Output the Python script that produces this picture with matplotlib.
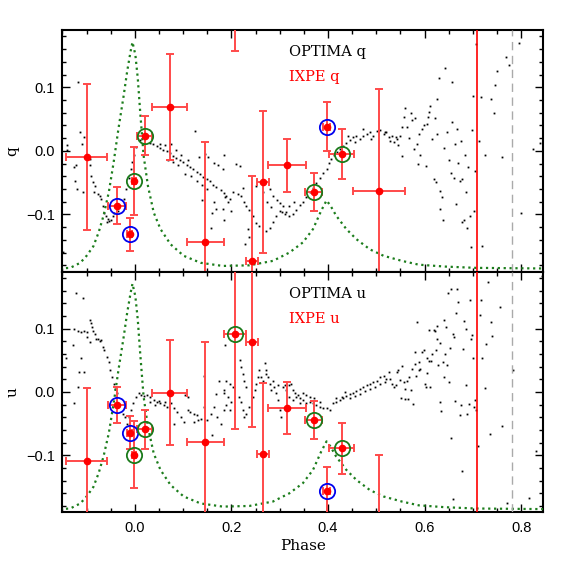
import numpy as np
import matplotlib
matplotlib.use('Agg')
import matplotlib.pyplot as plt
from matplotlib.ticker import MultipleLocator

# IXPE points (shared phase bins)
ixpe_phase = [-0.100, -0.037, -0.011, -0.001, 0.020, 0.072, 0.146, 0.2075, 0.243,
              0.265, 0.315, 0.370, 0.397, 0.428, 0.5055]
ixpe_phase_err = [0.042, 0.018, 0.005, 0.004, 0.015, 0.036, 0.038, 0.023, 0.013,
                  0.0125, 0.039, 0.0166, 0.008, 0.0256, 0.053]
ixpe_q = [-0.010, -0.086, -0.131, -0.047, 0.024, 0.069, -0.144, 0.306, -0.173,
          -0.049, -0.023, -0.065, 0.038, -0.005, -0.063]
ixpe_q_err = [0.115, 0.029, 0.026, 0.0535, 0.031, 0.0835, 0.158, 0.149, 0.134,
              0.111, 0.0415, 0.030, 0.039, 0.040, 0.161]
ixpe_u = [-0.109, -0.021, -0.064, -0.099, -0.059, -0.001, -0.079, 0.091, 0.079,
          -0.098, -0.025, -0.044, -0.157, -0.089, -0.260]
ixpe_u_err = [0.115, 0.0285, 0.026, 0.053, 0.031, 0.083, 0.158, 0.149, 0.135,
              0.112, 0.0415, 0.030, 0.039, 0.040, 0.161]

# which bins get a ring
blue_q = [1, 2, 12]
green_q = [3, 4, 11, 13]
blue_u = [1, 2, 12]
green_u = [3, 4, 7, 11, 13]

# scaled pulse profile (dotted green)
profile_phase = [-0.155, -0.134, -0.113, -0.100, -0.086, -0.075, -0.065, -0.054, -0.044,
                 -0.034, -0.023, -0.016, -0.009, -0.005, 0.001, 0.006, 0.011, 0.018,
                 0.027, 0.039, 0.053, 0.074, 0.101, 0.136, 0.182, 0.237, 0.286, 0.320,
                 0.348, 0.369, 0.386, 0.397, 0.405, 0.417, 0.438, 0.459, 0.487, 0.515,
                 0.553, 0.588, 0.643, 0.706, 0.850]
profile_val = [-0.185, -0.184, -0.176, -0.165, -0.150, -0.128, -0.102, -0.065, -0.018,
               0.035, 0.088, 0.125, 0.156, 0.171, 0.151, 0.114, 0.061, -0.007,
               -0.055, -0.097, -0.123, -0.147, -0.165, -0.176, -0.181, -0.180, -0.173, -0.160,
               -0.144, -0.123, -0.094, -0.078, -0.086, -0.102, -0.123, -0.139, -0.155, -0.165,
               -0.173, -0.179, -0.182, -0.184, -0.185]

# OPTIMA q (phase, q)
optima_q = [
    (-0.117, 0.109), (-0.140, 0.009), (-0.141, 0.001), (-0.127, -0.025), (-0.122, -0.023),
    (-0.113, 0.030), (-0.106, 0.022), (-0.110, 0.011), (-0.124, -0.047), (-0.120, -0.060),
    (-0.108, -0.064), (-0.093, -0.013), (-0.094, -0.023), (-0.091, -0.039), (-0.086, -0.049),
    (-0.082, -0.055), (-0.084, -0.065), (-0.077, -0.068), (-0.073, -0.071), (-0.070, -0.076),
    (-0.067, -0.086), (-0.063, -0.097), (-0.060, -0.102), (-0.056, -0.107), (-0.053, -0.110),
    (-0.050, -0.108), (-0.046, -0.103), (-0.058, -0.112), (-0.043, -0.097), (-0.036, -0.094),
    (-0.023, -0.076), (-0.018, -0.060), (-0.013, -0.042), (-0.009, -0.028), (-0.006, -0.018),
    (-0.002, -0.007), (0.003, 0.006), (0.010, 0.017), (-0.148, -0.159),
    (0.031, 0.013), (0.038, 0.010), (0.045, 0.008), (0.052, 0.004), (0.059, 0.002),
    (0.066, -0.001), (0.072, -0.004), (0.079, -0.008), (0.086, -0.011), (0.093, -0.015),
    (0.100, -0.018), (0.107, -0.022), (0.114, -0.025), (0.121, -0.028), (0.128, -0.033),
    (0.135, -0.037), (0.142, -0.041), (0.149, -0.045), (0.155, -0.048), (0.162, -0.053),
    (0.169, -0.057), (0.178, -0.061), (0.185, -0.066),
    (0.053, 0.011), (0.063, 0.009), (0.075, 0.010), (0.085, 0.002), (0.096, -0.007),
    (0.110, -0.014), (0.124, 0.031), (0.133, -0.009), (0.145, -0.005), (0.151, -0.010),
    (0.163, -0.019), (0.172, -0.023), (0.182, -0.029),
    (0.068, -0.014), (0.078, -0.017), (0.089, -0.022), (0.103, -0.036), (0.117, -0.039),
    (0.129, -0.048), (0.138, -0.054), (0.150, -0.060), (0.163, -0.081), (0.169, -0.092),
    (0.160, -0.097), (0.158, -0.122), (0.140, -0.077), (0.186, -0.073),
    (0.185, -0.007), (0.210, -0.020), (0.217, -0.024), (0.189, -0.071), (0.196, -0.076),
    (0.203, -0.065), (0.213, -0.068), (0.220, -0.071), (0.183, -0.092), (0.192, -0.081),
    (0.185, -0.108), (0.199, -0.094), (0.225, -0.081), (0.230, -0.086), (0.237, -0.093),
    (0.244, -0.102), (0.251, -0.113), (0.258, -0.118), (0.235, -0.123), (0.237, -0.135),
    (0.229, -0.147), (0.272, -0.126), (0.279, -0.121), (0.286, -0.112), (0.293, -0.103),
    (0.300, -0.094), (0.307, -0.087), (0.314, -0.096), (0.320, -0.102), (0.327, -0.100),
    (0.334, -0.093), (0.341, -0.085), (0.348, -0.080),
    (0.223, -0.059), (0.251, -0.055), (0.265, -0.064), (0.279, -0.060), (0.287, -0.071),
    (0.294, -0.077), (0.301, -0.082), (0.304, -0.096), (0.311, -0.100), (0.273, -0.081),
    (0.282, -0.089), (0.320, -0.086), (0.329, -0.081),
    (0.355, -0.073), (0.362, -0.065), (0.369, -0.058), (0.376, -0.050), (0.383, -0.043),
    (0.390, -0.035), (0.397, -0.028), (0.402, -0.019), (0.407, -0.013), (0.412, -0.007),
    (0.418, -0.002), (0.424, 0.003), (0.431, 0.008), (0.438, 0.013), (0.445, 0.017),
    (0.452, 0.021), (0.459, 0.024), (0.466, 0.019), (0.473, 0.023), (0.480, 0.027),
    (0.487, 0.030), (0.494, 0.024), (0.501, 0.031), (0.508, 0.033), (0.515, 0.027),
    (0.521, 0.029), (0.442, 0.024), (0.456, 0.014), (0.473, 0.035), (0.490, 0.019),
    (0.519, 0.030), (0.526, 0.022), (0.529, 0.016), (0.533, 0.024), (0.536, 0.014),
    (0.540, 0.022), (0.543, 0.018), (0.546, 0.009), (0.550, 0.024), (0.553, -0.008),
    (0.553, 0.038), (0.557, 0.053), (0.560, 0.067), (0.564, 0.037), (0.567, 0.020),
    (0.571, 0.059), (0.574, 0.048), (0.578, 0.003), (0.581, 0.051), (0.585, 0.011),
    (0.587, -0.020), (0.589, 0.027), (0.591, -0.006), (0.595, 0.035), (0.598, 0.040),
    (0.602, -0.024), (0.605, 0.043), (0.607, 0.053), (0.609, 0.061), (0.611, 0.071),
    (0.616, 0.019), (0.619, -0.045), (0.621, 0.051), (0.623, -0.049), (0.626, 0.027),
    (0.626, 0.082), (0.630, 0.114), (0.633, -0.063), (0.637, -0.073), (0.633, -0.092),
    (0.638, -0.108), (0.640, 0.005), (0.643, 0.130), (0.647, 0.030), (0.650, -0.015),
    (0.654, -0.035), (0.656, 0.109), (0.657, 0.045), (0.661, -0.042), (0.664, 0.011),
    (0.666, -0.084), (0.668, 0.035), (0.670, -0.019), (0.673, -0.048), (0.675, 0.016),
    (0.678, -0.045), (0.678, -0.112), (0.682, -0.108), (0.683, -0.006), (0.685, -0.065),
    (0.687, -0.121), (0.691, -0.026), (0.695, -0.103), (0.697, -0.151), (0.699, 0.032),
    (0.700, 0.087), (0.703, -0.095), (0.704, -0.032), (0.706, 0.168), (0.713, 0.015),
    (0.717, 0.084), (0.720, -0.150), (0.725, -0.006), (0.737, 0.081), (0.743, 0.059),
    (0.746, 0.104), (0.751, 0.125), (0.761, -0.010), (0.768, 0.147), (0.776, 0.135),
    (0.796, 0.169), (0.799, -0.098), (0.824, 0.003), (0.840, 0.013),
]

# OPTIMA u (phase, u)
optima_u = [
    (-0.122, 0.156), (-0.108, 0.148), (-0.127, 0.100), (-0.117, 0.097), (-0.112, 0.095),
    (-0.106, 0.097), (-0.100, 0.095), (-0.094, 0.114), (-0.091, 0.109), (-0.088, 0.103),
    (-0.086, 0.097), (-0.083, 0.092), (-0.080, 0.084), (-0.077, 0.083), (-0.073, 0.081),
    (-0.070, 0.082), (-0.094, 0.079), (-0.100, 0.087), (-0.129, 0.074), (-0.066, 0.071),
    (-0.063, 0.066), (-0.058, 0.055), (-0.054, 0.047), (-0.051, 0.034), (-0.048, 0.024),
    (-0.044, 0.013), (-0.041, 0.005), (-0.037, -0.002), (-0.142, 0.053), (-0.112, 0.053),
    (-0.115, 0.032), (-0.106, 0.032), (-0.117, 0.008), (-0.126, -0.018),
    (-0.025, -0.034), (-0.020, -0.039), (-0.016, -0.050), (-0.013, -0.039), (-0.008, -0.029),
    (-0.003, -0.018), (0.003, -0.008), (0.008, -0.002), (0.013, -0.004), (0.018, -0.007),
    (0.025, -0.005), (0.032, -0.008), (0.039, -0.013), (0.046, -0.016), (0.053, -0.018),
    (0.060, -0.021), (0.067, -0.024), (0.032, -0.016), (0.042, -0.021), (0.050, -0.014),
    (0.063, -0.016), (0.074, -0.018), (0.081, -0.026), (0.088, -0.032), (0.095, -0.039),
    (0.102, -0.047), (0.109, -0.029), (0.115, -0.032), (0.122, -0.034), (0.129, -0.037),
    (0.136, -0.042), (0.143, -0.024), (0.150, -0.045), (0.157, -0.034), (0.164, -0.024),
    (0.171, -0.039), (0.178, -0.050), (0.185, -0.029), (0.082, -0.050), (0.103, -0.005),
    (0.110, -0.008), (0.122, -0.047), (0.131, -0.045), (0.160, -0.068), (0.143, 0.026),
    (0.169, -0.003), (0.174, 0.018), (0.185, 0.003), (0.186, 0.074),
    (0.189, 0.018), (0.196, 0.013), (0.203, 0.008), (0.185, -0.002), (0.192, -0.008),
    (0.199, -0.016), (0.196, -0.029), (0.189, -0.021), (0.217, 0.050), (0.220, 0.039),
    (0.223, 0.029), (0.227, 0.018), (0.230, 0.008), (0.215, -0.008), (0.220, -0.016),
    (0.223, -0.029), (0.227, -0.039), (0.230, -0.034), (0.237, -0.024), (0.244, -0.008),
    (0.248, 0.003), (0.251, 0.013), (0.255, 0.024), (0.258, 0.034), (0.262, 0.024),
    (0.265, 0.018), (0.269, 0.045), (0.272, 0.034), (0.272, 0.029), (0.275, 0.024),
    (0.279, 0.013), (0.282, 0.003), (0.286, 0.018), (0.289, 0.008), (0.293, -0.002),
    (0.296, -0.013), (0.300, -0.029), (0.303, -0.039), (0.296, 0.011), (0.307, 0.008),
    (0.310, 0.011), (0.314, 0.003), (0.320, 0.011), (0.324, 0.013), (0.327, 0.003),
    (0.331, -0.002), (0.334, -0.008), (0.338, -0.005), (0.341, -0.010), (0.348, -0.013),
    (0.355, -0.018), (0.362, -0.016), (0.369, -0.018), (0.376, -0.021), (0.383, -0.024),
    (0.390, -0.025), (0.397, -0.026), (0.404, -0.028), (0.411, -0.018), (0.417, -0.016),
    (0.424, -0.013), (0.431, -0.010), (0.438, -0.007), (0.445, -0.003), (0.452, -0.002),
    (0.459, 0.001), (0.466, 0.004), (0.473, 0.008), (0.480, 0.011), (0.487, 0.013),
    (0.494, 0.016), (0.501, 0.018), (0.508, 0.023), (0.515, 0.025), (0.521, 0.021),
    (0.417, -0.010), (0.428, -0.008), (0.435, 0.000), (0.445, -0.010), (0.456, -0.007),
    (0.466, -0.003), (0.476, 0.002), (0.487, 0.005), (0.497, 0.008), (0.508, 0.013),
    (0.518, 0.016), (0.320, -0.008), (0.327, -0.013), (0.341, -0.018), (0.348, -0.002),
    (0.355, -0.005), (0.362, -0.008), (0.372, -0.010), (0.383, -0.016),
    (0.526, 0.032), (0.529, 0.021), (0.533, 0.013), (0.536, 0.008), (0.540, 0.011),
    (0.543, 0.032), (0.546, 0.034), (0.550, 0.019), (0.552, -0.009), (0.553, 0.041),
    (0.557, 0.016), (0.559, 0.005), (0.560, -0.011), (0.564, 0.018), (0.566, -0.011),
    (0.567, 0.024), (0.571, 0.003), (0.574, 0.037), (0.576, -0.019), (0.580, 0.044),
    (0.581, 0.063), (0.582, 0.026), (0.585, 0.111), (0.588, 0.034), (0.589, 0.047),
    (0.591, 0.037), (0.595, 0.063), (0.598, 0.067), (0.600, 0.013), (0.603, 0.008),
    (0.605, 0.053), (0.606, 0.030), (0.609, 0.098), (0.610, 0.049), (0.612, 0.008),
    (0.614, 0.049), (0.616, 0.060), (0.619, 0.098), (0.621, 0.096), (0.623, 0.067),
    (0.625, 0.083), (0.626, 0.104), (0.628, 0.042), (0.631, -0.016), (0.633, 0.077),
    (0.635, -0.030), (0.638, 0.047), (0.640, 0.023), (0.641, 0.113), (0.643, 0.060),
    (0.645, 0.102), (0.647, 0.042), (0.649, 0.156), (0.650, 0.016), (0.652, 0.070),
    (0.655, 0.162), (0.655, -0.073), (0.659, -0.169), (0.659, 0.091), (0.662, 0.087),
    (0.664, -0.014), (0.666, 0.124), (0.668, 0.162), (0.670, 0.142), (0.673, -0.037),
    (0.675, -0.021), (0.678, -0.125), (0.680, 0.068), (0.682, 0.112), (0.685, 0.011),
    (0.686, 0.100), (0.689, -0.034), (0.692, -0.019), (0.695, 0.146), (0.697, 0.084),
    (0.699, 0.090), (0.701, 0.053), (0.702, -0.024), (0.704, -0.012), (0.707, -0.028),
    (0.711, -0.086), (0.714, 0.121), (0.718, 0.146), (0.720, 0.053), (0.725, 0.007),
    (0.727, 0.076), (0.731, 0.174), (0.735, -0.067), (0.737, 0.110), (0.739, 0.088),
    (0.756, 0.135), (0.760, -0.053), (0.770, -0.176), (0.784, 0.034), (0.817, -0.167),
    (0.831, -0.093), (0.844, 0.183),
]

red_line_phase = 0.709
dash_line_phase = 0.781

serif = 'DejaVu Serif'
sans = 'Liberation Sans'

fig = plt.figure(figsize=(5.74, 5.74), dpi=100)
ax_q = fig.add_axes([0.108, 0.5267, 0.8385, 0.421])
ax_u = fig.add_axes([0.108, 0.1075, 0.8385, 0.4192])


def draw_panel(ax, dots, vals, errs, blue, green, name):
    ph, v = zip(*dots)
    ax.plot(ph, v, 's', color='black', ms=1.3, mew=0, zorder=2)
    ax.plot(profile_phase, profile_val, ':', color='#1c7d1c', lw=1.6, zorder=3)
    ax.axvline(red_line_phase, color='red', lw=1.2, zorder=3)
    ax.axvline(dash_line_phase, color='#aaaaaa', lw=1.0, ls=(0, (6, 4)), zorder=3)
    ax.errorbar(ixpe_phase, vals, xerr=ixpe_phase_err, yerr=errs, fmt='o', color='red',
                ms=4.5, ecolor='#ff4a4a', elinewidth=1.4, capsize=3, capthick=1.4, zorder=4)
    x = np.array(ixpe_phase)
    y = np.array(vals)
    ax.plot(x[blue], y[blue], 'o', mfc='none', mec='#0000ee', ms=11, mew=1.3, zorder=5)
    ax.plot(x[green], y[green], 'o', mfc='none', mec='#1a7a1a', ms=11, mew=1.3, zorder=5)

    ax.text(0.319, 0.155, 'OPTIMA ' + name, color='black', fontsize=10.5, family=serif,
            va='center', ha='left')
    ax.text(0.319, 0.116, 'IXPE ' + name, color='red', fontsize=10.5, family=serif,
            va='center', ha='left')

    ax.set_xlim(-0.151, 0.846)
    ax.set_ylim(-0.19, 0.19)
    ax.xaxis.set_major_locator(MultipleLocator(0.2))
    ax.xaxis.set_minor_locator(MultipleLocator(0.05))
    ax.yaxis.set_major_locator(MultipleLocator(0.1))
    ax.yaxis.set_minor_locator(MultipleLocator(0.02))
    ax.tick_params(which='both', direction='in', top=True, right=True, width=1.0)
    ax.tick_params(which='major', length=6)
    ax.tick_params(which='minor', length=3)
    ax.tick_params(axis='y', pad=5)
    ax.tick_params(axis='x', pad=6)
    for s in ax.spines.values():
        s.set_linewidth(1.5)
    for lab in ax.get_xticklabels() + ax.get_yticklabels():
        lab.set_family(sans)
        lab.set_fontsize(10.5)
    ax.set_ylabel(name, family=serif, fontsize=11, labelpad=5)


draw_panel(ax_q, optima_q, ixpe_q, ixpe_q_err, blue_q, green_q, 'q')
draw_panel(ax_u, optima_u, ixpe_u, ixpe_u_err, blue_u, green_u, 'u')

ax_q.tick_params(labelbottom=False)
ax_u.set_xlabel('Phase', family=serif, fontsize=11, labelpad=3)

fig.savefig('out.png', dpi=100)
